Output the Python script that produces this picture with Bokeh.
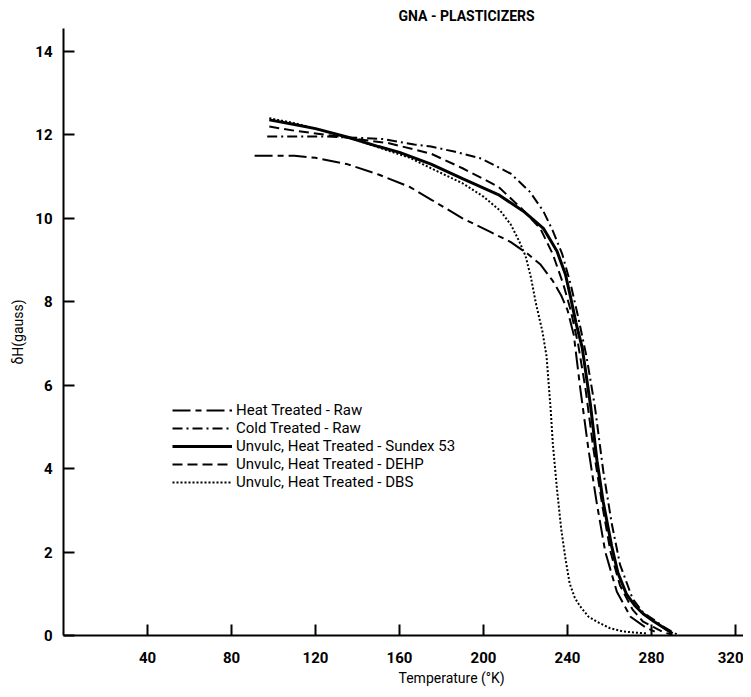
from bokeh.plotting import figure
from bokeh.models import Title, Legend, LegendItem, FixedTicker
from bokeh.embed import file_html
from bokeh.resources import INLINE

FONT = "Roboto, 'Liberation Sans', sans-serif"

# ---- data ----
ht_raw_x = [91, 100, 110, 120, 135, 150, 165, 175, 190, 203, 213, 221, 227, 233, 237, 240, 243, 246, 250, 254, 258, 263.5, 270, 277, 283]
ht_raw_y = [11.5, 11.5, 11.5, 11.45, 11.3, 11.05, 10.75, 10.45, 10.0, 9.68, 9.43, 9.15, 8.9, 8.5, 8.15, 7.8, 7.2, 5.95, 4.45, 3.15, 2.0, 1.05, 0.45, 0.2, 0.06]

cold_raw_x = [97, 110, 125, 140, 152, 167, 175, 186, 199, 213, 222, 228.5, 233, 237.5, 241.5, 245, 249, 253, 257, 261, 265, 271, 276, 281, 286, 292]
cold_raw_y = [11.96, 11.96, 11.96, 11.93, 11.9, 11.77, 11.72, 11.6, 11.43, 11.07, 10.64, 10.17, 9.7, 9.14, 8.42, 7.65, 6.7, 5.5, 3.95, 2.7, 1.7, 0.88, 0.55, 0.38, 0.2, 0.03]

sundex_x = [98, 110, 120, 135, 150, 160, 175, 190, 207, 219, 228.5, 235, 239, 241.5, 244, 247, 251, 254, 257, 261, 264, 268, 272, 276, 281, 286, 290]
sundex_y = [12.36, 12.25, 12.15, 11.95, 11.72, 11.58, 11.3, 10.95, 10.57, 10.17, 9.76, 9.21, 8.66, 8.1, 7.5, 6.9, 5.5, 4.2, 3.2, 2.15, 1.5, 1.0, 0.72, 0.52, 0.34, 0.18, 0.05]

dehp_x = [98, 110, 125, 140, 155, 175, 190, 207, 218, 227, 233, 238, 241.5, 245, 248.6, 252.4, 256.7, 260.5, 265, 271, 276, 281, 286, 290]
dehp_y = [12.2, 12.1, 12.0, 11.9, 11.8, 11.55, 11.2, 10.76, 10.24, 9.76, 9.14, 8.42, 7.8, 7.0, 5.9, 4.45, 3.08, 2.0, 1.2, 0.62, 0.33, 0.2, 0.07, 0.02]

dbs_x = [98, 110, 120, 135, 150, 165, 175, 190, 200, 208, 213, 217, 220, 222.5, 225, 228, 230, 232, 233, 235, 237, 239, 241, 243.5, 246, 250, 254, 260, 266, 272, 278]
dbs_y = [12.4, 12.28, 12.15, 11.95, 11.7, 11.45, 11.2, 10.84, 10.52, 10.18, 9.85, 9.45, 9.1, 8.6, 7.95, 7.3, 6.7, 5.4, 4.6, 3.5, 2.55, 1.85, 1.25, 0.9, 0.7, 0.45, 0.33, 0.18, 0.1, 0.07, 0.05]

series_labels = ["Heat Treated - Raw", "Cold Treated - Raw", "Unvulc, Heat Treated - Sundex 53",
                 "Unvulc, Heat Treated - DEHP", "Unvulc, Heat Treated - DBS"]
x_ticks = [40, 80, 120, 160, 200, 240, 280, 320]
y_ticks = [0, 2, 4, 6, 8, 10, 12, 14]

p = figure(width=743, height=689, output_backend="svg", toolbar_location=None,
           x_range=(0, 323.8), y_range=(0, 14.55),
           min_border_left=63, min_border_right=0, min_border_top=27, min_border_bottom=54)
p.outline_line_color = None
p.xgrid.visible = False
p.ygrid.visible = False
p.background_fill_color = "white"
p.border_fill_color = "white"

for ax in (p.xaxis[0], p.yaxis[0]):
    ax.axis_line_width = 2
    ax.axis_line_color = "black"
    ax.major_tick_in = 11
    ax.major_tick_out = 0
    ax.major_tick_line_width = 2
    ax.major_tick_line_color = "black"
    ax.minor_tick_line_color = None
    ax.major_label_text_font = FONT
    ax.major_label_text_font_size = "15px"
    ax.major_label_text_font_style = "bold"
    ax.major_label_text_color = "black"
    ax.axis_label_text_font = FONT
    ax.axis_label_text_font_style = "normal"
    ax.axis_label_text_font_size = "14px"
    ax.axis_label_text_color = "black"

p.xaxis.ticker = FixedTicker(ticks=x_ticks)
p.yaxis.ticker = FixedTicker(ticks=y_ticks)
p.xaxis.major_label_standoff = 16
p.yaxis.major_label_standoff = 11
p.yaxis.axis_label = "\u03b4H(gauss)"
p.yaxis.axis_label_standoff = 6

styles = [
    dict(line_dash="18 5 6 5", line_width=2),
    dict(line_dash="10 4 2 4", line_width=2),
    dict(line_dash="solid", line_width=3),
    dict(line_dash="10 5", line_width=2),
    dict(line_dash="2 2", line_width=2),
]
xs = [ht_raw_x, cold_raw_x, sundex_x, dehp_x, dbs_x]
ys = [ht_raw_y, cold_raw_y, sundex_y, dehp_y, dbs_y]
items = []
for x, y, st, lab in zip(xs, ys, styles, series_labels):
    r = p.line(x, y, line_color="black", **st)
    items.append(LegendItem(label=lab, renderers=[r]))

legend = Legend(items=items, location=(109, 144), orientation="vertical")
legend.background_fill_alpha = 0
legend.border_line_color = None
legend.padding = 0
legend.margin = 0
legend.spacing = 0
legend.glyph_width = 60
legend.glyph_height = 16
legend.label_height = 16
legend.label_standoff = 4
legend.label_text_font = FONT
legend.label_text_font_size = "15px"
legend.label_text_color = "black"
p.add_layout(legend)

top_title = Title(text="GNA - PLASTICIZERS", align="left", offset=335, standoff=10,
                  text_font=FONT, text_font_size="14px", text_font_style="bold",
                  text_color="black")
p.add_layout(top_title, "above")
x_title = Title(text="Temperature (\u00b0K)", align="left", offset=335, standoff=4,
                text_font=FONT, text_font_size="14px", text_font_style="normal",
                text_color="black")
p.add_layout(x_title, "below")

open("out.html", "w").write(file_html(p, INLINE))
